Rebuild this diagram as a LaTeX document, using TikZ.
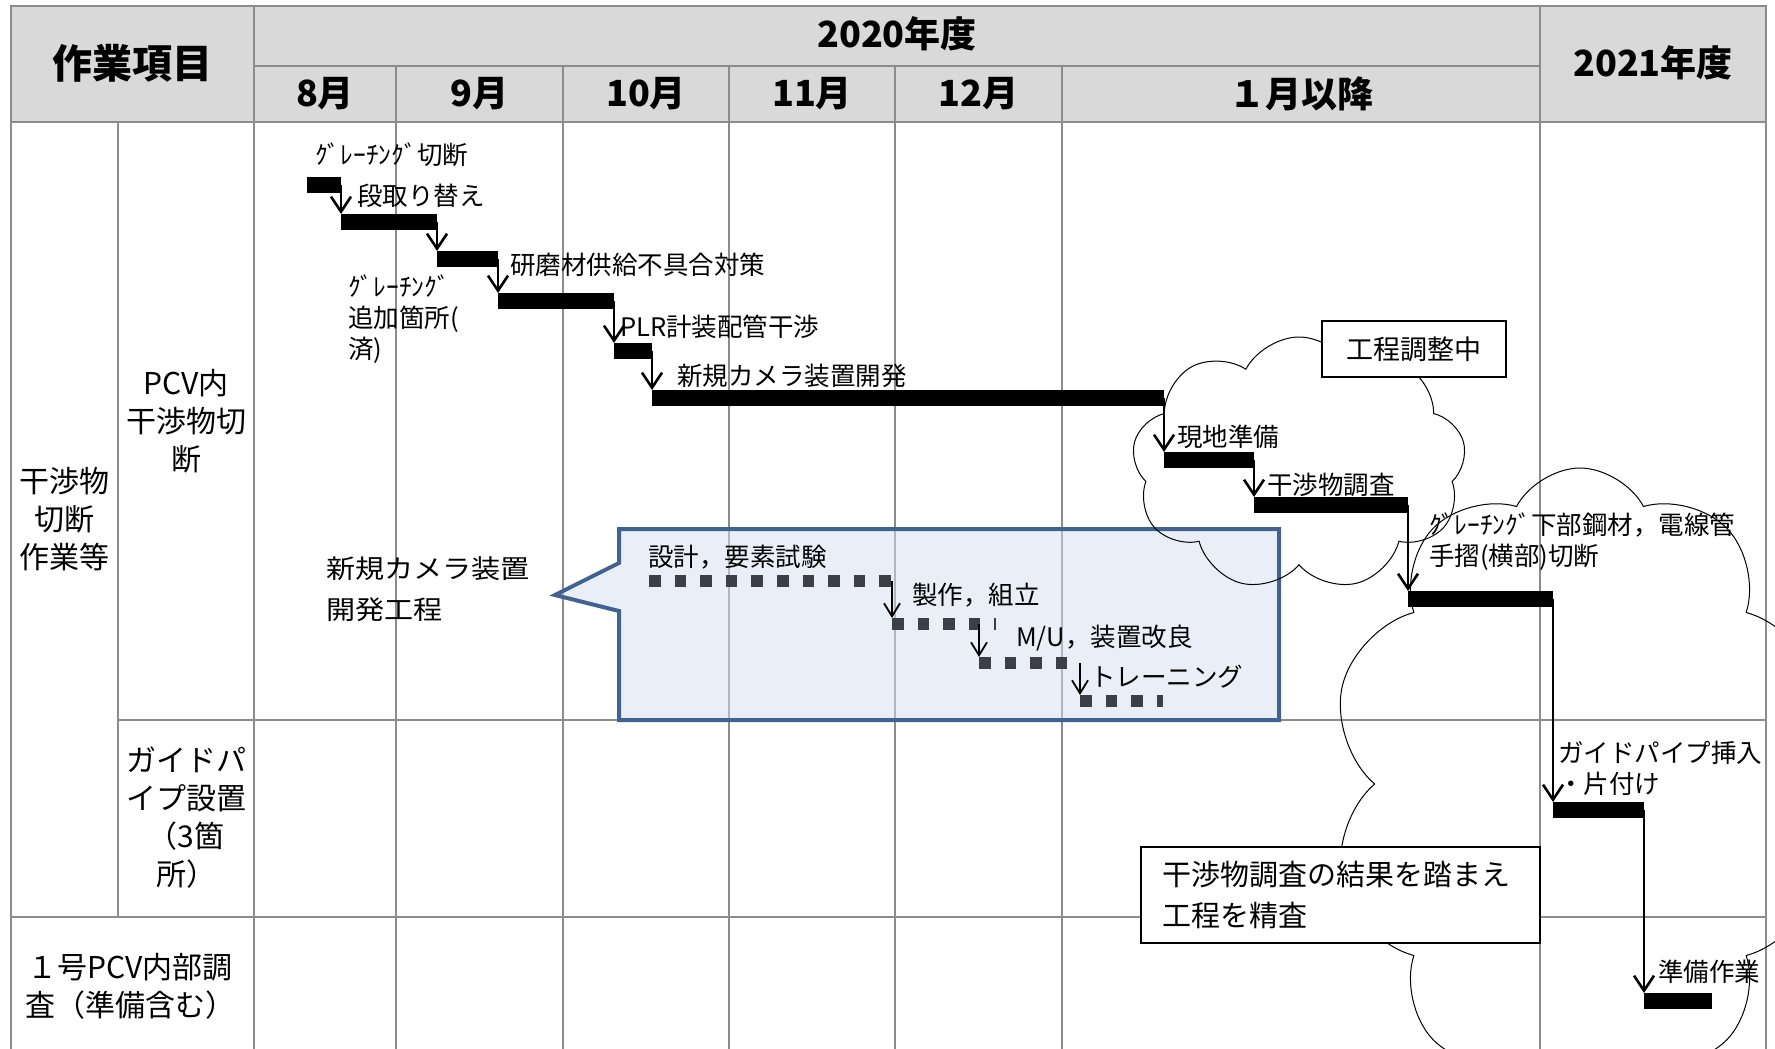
\documentclass[tikz,border=0pt]{standalone}
\usepackage{fontspec}
\setmainfont{Noto Sans CJK JP}
\newfontfamily\widejp[FakeStretch=1.12]{Noto Sans CJK JP}
\usetikzlibrary{shapes,arrows.meta}
\definecolor{gridgray}{RGB}{140,140,140}
\definecolor{headgray}{RGB}{217,217,217}
\definecolor{calloutblue}{RGB}{64,99,145}
\definecolor{calloutfill}{RGB}{214,224,240}
\definecolor{dashgray}{RGB}{60,63,69}

\begin{document}
\begin{tikzpicture}[x=1pt,y=-1pt,
gridline/.style={draw=gridgray,line width=2.5pt},
bar/.style={fill=black,inner sep=0pt,outer sep=0pt,minimum height=16pt,anchor=west},
steparrow/.style={-{Straight Barb[length=15pt,width=20pt]},line width=2.6pt},
substep/.style={-{Straight Barb[length=13pt,width=16pt]},line width=1.8pt},
dashbar/.style={draw=dashgray,line width=12pt,dash pattern=on 11.5pt off 14.1pt},
lbl/.style={anchor=west,inner sep=0pt,align=left,font=\fontsize{25.5}{31}\selectfont},
cell/.style={align=center,inner sep=0pt,font=\fontsize{30}{38}\selectfont},
head/.style={inner sep=0pt,font=\bfseries\fontsize{36}{40}\selectfont},
note/.style={draw,fill=white,line width=1.5pt,inner sep=0pt},
puff/.style={cloud,cloud ignores aspect,draw,line width=1pt,inner sep=0pt}]
\useasboundingbox (0,0) rectangle (1775,1049);
\clip (0,0) rectangle (1775,1049);

\fill[headgray] (11,6) rectangle (1766,122);
\draw[gridline] (11,1060) -- (11,6) -- (1766,6) -- (1766,1060);
\draw[gridline] (254,66) -- (1540,66);
\draw[gridline] (11,122) -- (1766,122);
\draw[gridline] (118,720) -- (1766,720);
\draw[gridline] (11,917) -- (1766,917);
\draw[gridline] (118,122) -- (118,917);
\draw[gridline] (254,6) -- (254,1060);
\draw[gridline] (396,66) -- (396,1060);
\draw[gridline] (563,66) -- (563,1060);
\draw[gridline] (729,66) -- (729,1060);
\draw[gridline] (895,66) -- (895,1060);
\draw[gridline] (1062,66) -- (1062,1060);
\draw[gridline] (1540,6) -- (1540,1060);

\node[head,font=\bfseries\fontsize{40}{44}\selectfont] (item) at (132,63) {作業項目};
\node[head] (fy2020) at (897,34) {2020年度};
\node[head] (fy2021) at (1653,63) {2021年度};
\node[head] (aug) at (325,94) {8月};
\node[head] (sep) at (479.5,94) {9月};
\node[head] (oct) at (646,94) {10月};
\node[head] (nov) at (812,94) {11月};
\node[head] (dec) at (978.5,94) {12月};
\node[head] (jan) at (1301,94) {１月以降};

\node[cell] (cut) at (64.5,519) {干渉物\\切断\\作業等};
\node[cell] (pcv) at (186,421) {PCV内\\干渉物切\\断};
\node[cell] (guide) at (186,818) {ガイドパ\\イプ設置\\（3箇\\所）};
\node[cell] (unit1) at (130,986) {１号PCV内部調\\査（準備含む）};

\draw[line width=4pt,draw=calloutblue,fill=calloutfill,fill opacity=0.5]
  (619,529) -- (1279,529) -- (1279,720) -- (619,720) -- (619,611) -- (555,595) -- (619,563) -- cycle;
\node[lbl,font=\widejp\fontsize{26}{41}\selectfont] (camplan) at (326,589) {新規カメラ装置\\開発工程};

\coordinate (d1s) at (649,581);
\coordinate (d1e) at (892,581);
\coordinate (d2s) at (892,624);
\coordinate (d2e) at (996,624);
\coordinate (d3s) at (979,663);
\coordinate (d3e) at (1068,663);
\coordinate (d4s) at (1080,701);
\coordinate (d4e) at (1163,701);
\draw[dashbar] (d1s) -- (d1e);
\draw[dashbar] (d2s) -- (d2e);
\draw[dashbar] (d3s) -- (d3e);
\draw[dashbar] (d4s) -- (d4e);
\draw[substep] (d1e) -- ([yshift=6pt]d2s);
\draw[substep] (d3s |- d2s) -- ([yshift=6pt]d3s);
\draw[substep] (d4s |- d3s) -- ([yshift=6pt]d4s);
\node[lbl] (design) at (648,557) {設計，要素試験};
\node[lbl] (build) at (912,595) {製作，組立};
\node[lbl] (mu) at (1016,638) {M/U，装置改良};
\node[lbl] (train) at (1090,677) {トレーニング};

\node[bar,minimum width=34pt] (b1) at (307,185) {};
\node[bar,minimum width=96pt] (b2) at (341,222) {};
\node[bar,minimum width=61pt] (b3) at (437,259) {};
\node[bar,minimum width=116pt] (b4) at (498,301) {};
\node[bar,minimum width=38pt] (b5) at (614,351) {};
\node[bar,minimum width=512pt] (b6) at (652,398) {};
\node[bar,minimum width=90pt] (b7) at (1164,460) {};
\node[bar,minimum width=154pt] (b8) at (1254,505) {};
\node[bar,minimum width=145pt] (b9) at (1408,599) {};
\node[bar,minimum width=91pt] (b10) at (1553,810) {};
\node[bar,minimum width=68pt] (b11) at (1644,1001) {};
\draw[steparrow] (b1.east) -- (b2.north west);
\draw[steparrow] (b2.east) -- (b3.north west);
\draw[steparrow] (b3.east) -- (b4.north west);
\draw[steparrow] (b4.east) -- (b5.north west);
\draw[steparrow] (b5.east) -- (b6.north west);
\draw[steparrow] (b6.east) -- (b7.north west);
\draw[steparrow] (b7.east) -- (b8.north west);
\draw[steparrow] (b8.east) -- (b9.north west);
\draw[steparrow] (b9.east) -- (b10.north west);
\draw[steparrow] (b10.east) -- (b11.north west);

\node[lbl] (grcut) at (315,155) {ｸﾞﾚｰﾁﾝｸﾞ切断};
\node[lbl] (setup) at (357,196) {段取り替え};
\node[lbl] (abrasive) at (510,265) {研磨材供給不具合対策};
\node[lbl] (gradd) at (348,319) {ｸﾞﾚｰﾁﾝｸﾞ\\追加箇所(\\済)};
\node[lbl] (plr) at (620,327) {PLR計装配管干渉};
\node[lbl] (camdev) at (677,376) {新規カメラ装置開発};
\node[lbl] (siteprep) at (1177,437) {現地準備};
\node[lbl] (survey) at (1267,485) {干渉物調査};
\node[lbl] (grlow) at (1429,542) {ｸﾞﾚｰﾁﾝｸﾞ下部鋼材，電線管\\手摺(横部)切断};
\node[lbl] (pipein) at (1558,768) {ガイドパイプ挿入\\・片付け};
\node[lbl] (prep) at (1658,972) {準備作業};

\node[puff,cloud puffs=9,cloud puff arc=125,minimum width=334pt,minimum height=254pt] (cl1) at (1299,464) {};
\node[puff,cloud puffs=10,cloud puff arc=125,minimum width=500pt,minimum height=632pt] (cl2) at (1580,784) {};

\node[note,minimum width=184pt,minimum height=56pt,font=\fontsize{27}{32}\selectfont] (adjust) at (1414,349) {工程調整中};
\node[note,text width=357pt,inner xsep=21pt,minimum height=96pt,align=left,font=\fontsize{29}{41}\selectfont] (review) at (1340.5,895) {干渉物調査の結果を踏まえ\\工程を精査};
\end{tikzpicture}
\end{document}
